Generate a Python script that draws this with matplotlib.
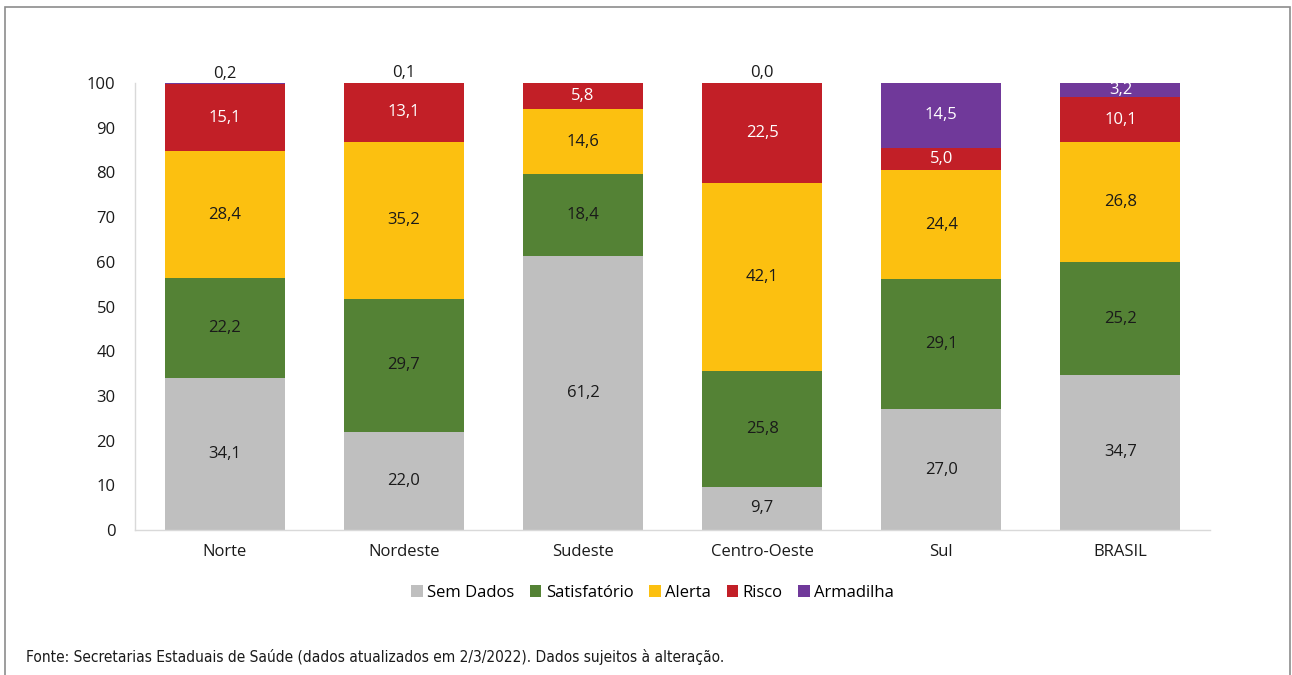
import matplotlib

matplotlib.use("Agg")
import matplotlib.pyplot as plt
import numpy as np
from matplotlib.patches import Rectangle

plt.rcParams["font.family"] = ["Open Sans", "DejaVu Sans"]

regions = ["Norte", "Nordeste", "Sudeste", "Centro-Oeste", "Sul", "BRASIL"]
categories = ["Sem Dados", "Satisfatório", "Alerta", "Risco", "Armadilha"]

sem_dados = [34.1, 22.0, 61.2, 9.7, 27.0, 34.7]
satisfatorio = [22.2, 29.7, 18.4, 25.8, 29.1, 25.2]
alerta = [28.4, 35.2, 14.6, 42.1, 24.4, 26.8]
risco = [15.1, 13.1, 5.8, 22.5, 5.0, 10.1]
armadilha = [0.2, 0.1, None, 0.0, 14.5, 3.2]

colors = ["#BFBFBF", "#548235", "#FCC010", "#C21F27", "#70399A"]
text_colors = ["#1A1A1A", "#1A1A1A", "#1A1A1A", "white", "white"]

series = [sem_dados, satisfatorio, alerta, risco, armadilha]

fig = plt.figure(figsize=(12.92, 6.75), dpi=100)
ax = fig.add_axes([0.1045, 0.2148, 0.832, 0.6622])

x = np.arange(len(regions))
bottom = np.zeros(len(regions))
for name, values, color, tcolor in zip(categories, series, colors, text_colors):
    vals = np.array([0.0 if v is None else v for v in values])
    ax.bar(x, vals, bottom=bottom, width=0.67, color=color, label=name, linewidth=0)
    for i, v in enumerate(values):
        if v is None:
            continue
        label = f"{v:.1f}".replace(".", ",")
        if v < 1:
            ax.text(x[i], bottom[i] + v + 0.3, label, ha="center", va="bottom",
                    fontsize=12, color="#1A1A1A")
        else:
            ax.text(x[i], bottom[i] + v / 2, label, ha="center", va="center",
                    fontsize=12, color=tcolor)
    bottom += vals

ax.set_xlim(-0.5, len(regions) - 0.5)
ax.set_ylim(0, 100)
ax.set_yticks(range(0, 101, 10))
ax.set_xticks(x)
ax.set_xticklabels(regions)
ax.tick_params(axis="both", length=0, labelsize=12, colors="#1A1A1A")
ax.tick_params(axis="y", pad=14)
ax.tick_params(axis="x", pad=10)
for spine in ("top", "right"):
    ax.spines[spine].set_visible(False)
for spine in ("left", "bottom"):
    ax.spines[spine].set_color("#D9D9D9")
    ax.spines[spine].set_linewidth(1.0)

ax.legend(loc="center", bbox_to_anchor=(0.505, 0.122), bbox_transform=fig.transFigure,
          ncol=5, frameon=False, fontsize=12, handlelength=0.7, handleheight=0.7,
          handletextpad=0.25, columnspacing=0.95)

# outer frame, open below the visible area
fig.patches.append(Rectangle((5 / 1292, -0.1), 1285 / 1292, 1.1 - 7 / 675,
                             transform=fig.transFigure, fill=False,
                             edgecolor="#8C8C8C", linewidth=1.2))

fig.text(26 / 1292, 1 - 657 / 675,
         "Fonte: Secretarias Estaduais de Saúde (dados atualizados em 2/3/2022). Dados sujeitos à alteração.",
         ha="left", va="center", fontsize=11.1, color="#1A1A1A",
         family="DejaVu Sans", stretch="condensed")

fig.savefig("out.png", dpi=100)
